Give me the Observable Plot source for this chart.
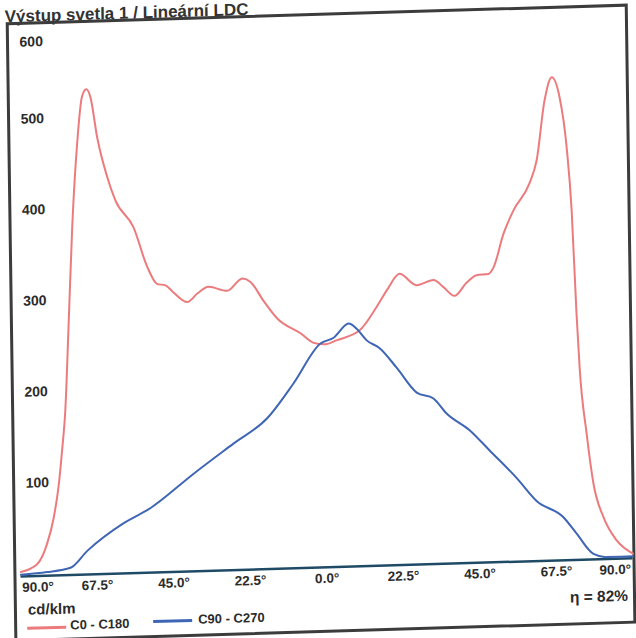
<!DOCTYPE html>
<html>
<head>
<meta charset="utf-8">
<script src="https://cdn.jsdelivr.net/npm/d3@7"></script>
<script src="https://cdn.jsdelivr.net/npm/@observablehq/plot@0.6"></script>
<style>
  html, body { margin: 0; padding: 0; background: #fff; overflow: hidden; }
  #wrap {
    position: relative; width: 636px; height: 638px;
    font-family: "Liberation Sans", Arial, sans-serif; color: #2b2b2b;
    transform: matrix(1, -0.03, 0.014, 1, 0, 0); transform-origin: 318px 319px;
  }
  #wrap svg { position: absolute; left: 0; top: 0; }
  .abs { position: absolute; white-space: nowrap; font-weight: bold; }
  #title { left: 9px; top: -1px; font-size: 17px; line-height: 17px; color: #333; }
  #frame { position: absolute; left: 10px; top: 13px; width: 622px; height: 620px;
           box-sizing: border-box; border: 3px solid #3c3c3c; }
  #unit { left: 24px; top: 592px; font-size: 15px; line-height: 18px; }
  #eta { right: 12px; top: 596px; font-size: 15.5px; line-height: 18px; }
  .sw { position: absolute; height: 3px; width: 39px; }
  .lg { font-size: 13px; line-height: 16px; }
</style>
</head>
<body>
<div id="wrap">
  <div id="title" class="abs">Výstup svetla 1 / Lineární LDC</div>
  <div id="frame"></div>
  <div id="unit" class="abs">cd/klm</div>
  <div id="eta" class="abs">η = 82%</div>
  <div class="sw" style="left:23px;top:618px;background:#ec7b7d"></div>
  <div class="abs lg" style="left:66px;top:610px">C0 - C180</div>
  <div class="sw" style="left:149px;top:615px;background:#3f66b5"></div>
  <div class="abs lg" style="left:194px;top:608px">C90 - C270</div>
</div>
<script>
// C0 - C180 (red)
const redAngles = [-90,-85.2,-82.2,-80.1,-78.5,-77.4,-76.3,-75,-73.5,-71.7,-70.1,-68.8,-67.6,-65.8,-63,-60.7,-55.5,-51.6,-48.8,-46.3,-44,-40,-37,-33.7,-28.2,-23.7,-21.3,-17.6,-13.6,-6.8,-3,0.5,3.7,10.5,15.6,19.2,22.5,27.5,32.5,35.4,38.6,42.2,45.2,48.7,50.2,53.3,56.3,61.1,63.3,65.9,68.1,70.3,72.2,73.4,74.4,75.1,76.9,78.7,81.5,85.3,90];
const redValues = [5,13,35,64,100,137,180,272,382,474,525,533,524,480,436,410,380,336,317,315,307,296,305,312,307,320,316,295,275,258,247,245,249,259,284,305,320,307,312,304,294,308,316,317,324,361,386,415,440,506,531,509,453,384,271,211,138,83,46,20,5];
// C90 - C270 (blue)
const blueAngles = [-90,-82.3,-75.4,-70.4,-59.7,-51.6,-38.9,-27,-16.9,-9.1,-1,2.9,7.4,9.7,12.6,16.4,21.3,27.1,32,35.8,42.5,48.3,56.1,61.9,69.8,73.5,78.4,82.3,90];
const blueValues = [2,4,8,26,55,71,107,139,166,203,246,252,267,261,248,239,217,189,182,165,146,123,92,66,47,29,6,2,2];
// ticks
const xTicks = [-90,-67.5,-45,-22.5,0,22.5,45,67.5,90];
const xTickLabels = ["90.0°","67.5°","45.0°","22.5°","0.0°","22.5°","45.0°","67.5°","90.0°"];
const yTicks = [100,200,300,400,500,600];

const red = redAngles.map((a, i) => ({angle: a, value: redValues[i]}));
const blue = blueAngles.map((a, i) => ({angle: a, value: blueValues[i]}));
const xt = xTicks.map((v, i) => ({v, label: xTickLabels[i]}));

const font = {fontFamily: "Liberation Sans, Arial, sans-serif", fontWeight: "bold", fill: "#2b2b2b"};

const chart = Plot.plot({
  width: 636,
  height: 638,
  marginLeft: 17,
  marginRight: 7,
  marginTop: 21,
  marginBottom: 71,
  x: {domain: [-90, 90], axis: null},
  y: {domain: [0, 600], axis: null},
  style: {background: "transparent", overflow: "visible"},
  marks: [
    Plot.ruleY([0], {stroke: "#1f4a66", strokeWidth: 2.5}),
    Plot.line(red, {x: "angle", y: "value", stroke: "#ec7b7d", strokeWidth: 2, curve: "monotone-x"}),
    Plot.line(blue, {x: "angle", y: "value", stroke: "#3f66b5", strokeWidth: 2, curve: "monotone-x"}),
    Plot.text(yTicks.filter(v => v < 600), {y: d => d, text: d => String(d), frameAnchor: "left", textAnchor: "start", dx: 6, dy: -2, fontSize: 14, ...font}),
    Plot.text(yTicks.filter(v => v === 600), {y: d => d, text: d => String(d), frameAnchor: "left", textAnchor: "start", dx: 6, dy: 12, fontSize: 14, ...font}),
    Plot.text(xt.slice(1, -1), {x: "v", text: "label", frameAnchor: "bottom", dy: 15.5, fontSize: 13.5, ...font}),
    Plot.text(xt.slice(0, 1), {x: "v", text: "label", frameAnchor: "bottom", textAnchor: "start", dx: 1, dy: 15.5, fontSize: 13.5, ...font}),
    Plot.text(xt.slice(-1), {x: "v", text: "label", frameAnchor: "bottom", textAnchor: "end", dx: -2, dy: 15.5, fontSize: 13.5, ...font})
  ]
});
document.getElementById("wrap").insertBefore(chart, document.getElementById("unit"));
</script>
</body>
</html>
